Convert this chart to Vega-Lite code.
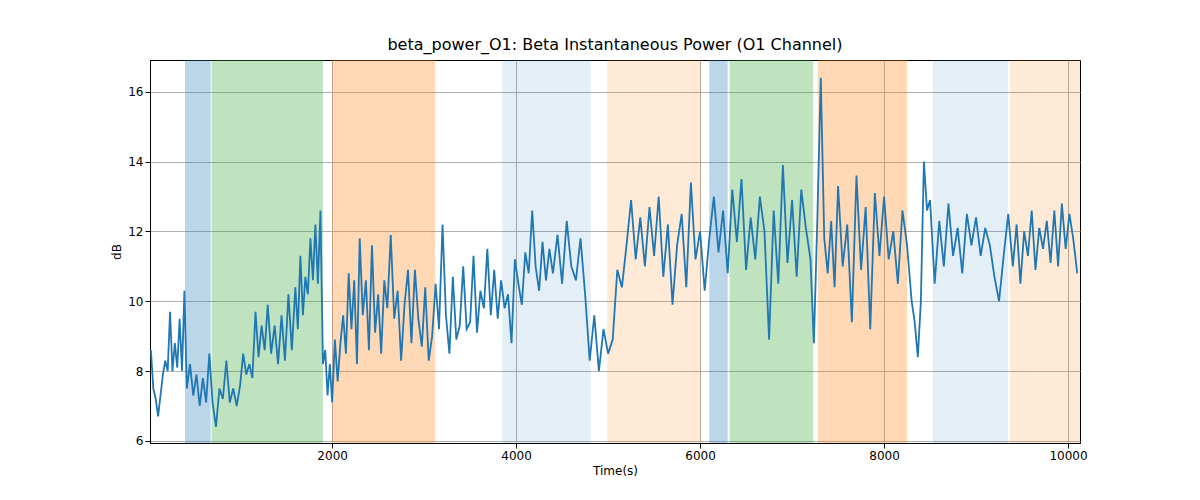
{
"$schema":"https://vega.github.io/schema/vega-lite/v6.json",
"width":930,"height":383,"autosize":{"type":"none"},
"padding":{"left":150,"top":60,"right":120,"bottom":57},
"background":"white",
"config":{"font":"DejaVu Sans","view":{"stroke":"black"},"axis":{"labelFontSize":12,"titleFontSize":12,"titleFontWeight":"normal","labelColor":"black","titleColor":"black","gridColor":"#b0b0b0","domainColor":"black","tickColor":"black"}},
"title":{"text":"beta_power_O1: Beta Instantaneous Power (O1 Channel)","fontSize":16,"fontWeight":"normal","offset":7},
"datasets":{
"bands":[
{"a":400,"b":680,"c":"#1f77b4","o":0.3},{"a":690,"b":1900,"c":"#2ca02c","o":0.3},{"a":2000,"b":3120,"c":"#ff7f0e","o":0.3},
{"a":3850,"b":4810,"c":"#1f77b4","o":0.12},{"a":4990,"b":6010,"c":"#ff7f0e","o":0.16},{"a":6100,"b":6300,"c":"#1f77b4","o":0.3},
{"a":6320,"b":7230,"c":"#2ca02c","o":0.3},{"a":7280,"b":8250,"c":"#ff7f0e","o":0.3},{"a":8530,"b":9350,"c":"#1f77b4","o":0.12},{"a":9370,"b":10130,"c":"#ff7f0e","o":0.16}],
"s":[
{"t":30,"v":8.6},{"t":56,"v":7.5},{"t":82,"v":7.2},{"t":108,"v":6.7},{"t":134,"v":7.3},{"t":160,"v":7.9},{"t":186,"v":8.3},{"t":212,"v":8.0},{"t":238,"v":9.7},{"t":264,"v":8.0},{"t":290,"v":8.8},{"t":316,"v":8.1},{"t":342,"v":9.5},{"t":368,"v":8.0},{"t":394,"v":10.3},
{"t":420,"v":7.5},{"t":455,"v":8.2},{"t":490,"v":7.3},{"t":525,"v":7.9},{"t":560,"v":7.0},{"t":595,"v":7.8},{"t":630,"v":7.1},{"t":665,"v":8.5},
{"t":700,"v":7.1},{"t":737,"v":6.4},{"t":775,"v":7.5},{"t":812,"v":7.2},{"t":850,"v":8.3},{"t":887,"v":7.1},{"t":925,"v":7.5},{"t":962,"v":7.0},
{"t":1000,"v":7.6},{"t":1033,"v":8.5},{"t":1067,"v":7.9},{"t":1100,"v":8.2},{"t":1133,"v":7.8},{"t":1167,"v":9.7},{"t":1200,"v":8.4},{"t":1233,"v":9.3},{"t":1267,"v":8.6},
{"t":1300,"v":9.9},{"t":1337,"v":8.5},{"t":1375,"v":9.3},{"t":1412,"v":8.2},{"t":1450,"v":9.6},{"t":1487,"v":8.3},{"t":1525,"v":10.2},{"t":1562,"v":8.6},
{"t":1600,"v":10.4},{"t":1627,"v":9.2},{"t":1655,"v":11.3},{"t":1682,"v":9.6},{"t":1709,"v":10.7},{"t":1736,"v":10.2},{"t":1764,"v":11.8},{"t":1791,"v":10.6},{"t":1818,"v":12.2},{"t":1845,"v":10.5},{"t":1873,"v":12.6},
{"t":1900,"v":8.2},{"t":1925,"v":8.6},{"t":1950,"v":7.3},{"t":1975,"v":8.2},
{"t":2000,"v":7.1},{"t":2030,"v":8.9},{"t":2060,"v":7.7},{"t":2090,"v":8.8},{"t":2120,"v":9.6},{"t":2150,"v":8.5},{"t":2180,"v":10.8},{"t":2210,"v":9.2},{"t":2240,"v":10.6},{"t":2270,"v":8.2},
{"t":2300,"v":11.8},{"t":2333,"v":9.6},{"t":2367,"v":10.6},{"t":2400,"v":8.6},{"t":2433,"v":11.6},{"t":2467,"v":9.1},{"t":2500,"v":10.2},{"t":2533,"v":8.5},{"t":2567,"v":10.6},
{"t":2600,"v":9.8},{"t":2637,"v":11.9},{"t":2675,"v":9.5},{"t":2712,"v":10.3},{"t":2750,"v":8.3},{"t":2787,"v":9.9},{"t":2825,"v":10.9},{"t":2862,"v":8.8},
{"t":2900,"v":10.9},{"t":2937,"v":9.5},{"t":2975,"v":8.7},{"t":3012,"v":10.4},{"t":3050,"v":8.3},{"t":3087,"v":9.0},{"t":3125,"v":10.5},{"t":3162,"v":9.2},
{"t":3200,"v":12.2},{"t":3237,"v":9.6},{"t":3275,"v":8.5},{"t":3312,"v":10.7},{"t":3350,"v":8.9},{"t":3387,"v":9.3},{"t":3425,"v":11.0},{"t":3462,"v":9.2},
{"t":3500,"v":9.4},{"t":3537,"v":11.3},{"t":3575,"v":9.1},{"t":3612,"v":10.3},{"t":3650,"v":9.8},{"t":3687,"v":11.5},{"t":3725,"v":9.6},{"t":3762,"v":10.9},
{"t":3800,"v":9.5},{"t":3837,"v":10.6},{"t":3875,"v":9.8},{"t":3912,"v":10.2},{"t":3950,"v":8.8},{"t":3987,"v":11.2},{"t":4025,"v":10.5},{"t":4062,"v":9.9},
{"t":4100,"v":11.4},{"t":4137,"v":10.8},{"t":4175,"v":12.6},{"t":4212,"v":11.0},{"t":4250,"v":10.3},{"t":4287,"v":11.7},{"t":4325,"v":10.6},{"t":4362,"v":11.5},
{"t":4400,"v":10.8},{"t":4450,"v":11.9},{"t":4500,"v":10.5},{"t":4550,"v":12.3},{"t":4600,"v":11.0},{"t":4650,"v":10.6},{"t":4700,"v":11.8},{"t":4750,"v":10.2},
{"t":4800,"v":8.3},{"t":4850,"v":9.6},{"t":4900,"v":8.0},{"t":4950,"v":9.2},{"t":5000,"v":8.5},{"t":5050,"v":8.9},
{"t":5100,"v":10.9},{"t":5150,"v":10.4},{"t":5200,"v":11.6},{"t":5250,"v":12.9},{"t":5300,"v":11.2},{"t":5350,"v":12.4},{"t":5400,"v":11.0},{"t":5450,"v":12.7},
{"t":5500,"v":11.3},{"t":5550,"v":13.0},{"t":5600,"v":10.7},{"t":5650,"v":12.2},{"t":5700,"v":9.9},{"t":5750,"v":11.6},{"t":5800,"v":12.5},{"t":5850,"v":10.4},{"t":5900,"v":13.4},{"t":5950,"v":11.2},
{"t":6000,"v":12.0},{"t":6050,"v":10.3},{"t":6100,"v":11.8},{"t":6150,"v":13.0},{"t":6200,"v":11.4},{"t":6250,"v":12.6},
{"t":6300,"v":10.8},{"t":6350,"v":13.2},{"t":6400,"v":11.7},{"t":6450,"v":13.5},{"t":6500,"v":10.9},{"t":6550,"v":12.4},{"t":6600,"v":11.2},{"t":6650,"v":13.0},
{"t":6700,"v":12.0},{"t":6750,"v":8.9},{"t":6800,"v":12.6},{"t":6850,"v":10.5},{"t":6900,"v":13.9},{"t":6950,"v":11.1},{"t":7000,"v":12.9},{"t":7050,"v":10.7},{"t":7100,"v":13.2},{"t":7150,"v":12.1},
{"t":7200,"v":11.2},{"t":7237,"v":8.8},{"t":7275,"v":12.4},{"t":7312,"v":16.4},{"t":7350,"v":11.8},{"t":7387,"v":10.8},{"t":7425,"v":12.3},{"t":7462,"v":10.4},
{"t":7500,"v":13.3},{"t":7550,"v":11.0},{"t":7600,"v":12.2},{"t":7650,"v":9.4},{"t":7700,"v":13.6},{"t":7750,"v":10.9},{"t":7800,"v":12.7},{"t":7850,"v":9.2},{"t":7900,"v":13.1},{"t":7950,"v":11.3},
{"t":8000,"v":13.0},{"t":8050,"v":11.2},{"t":8100,"v":12.0},{"t":8150,"v":10.5},{"t":8200,"v":12.6},{"t":8250,"v":11.6},
{"t":8300,"v":10.0},{"t":8333,"v":9.4},{"t":8367,"v":8.4},{"t":8400,"v":10.0},{"t":8433,"v":14.0},{"t":8467,"v":12.6},
{"t":8500,"v":12.9},{"t":8550,"v":10.5},{"t":8600,"v":12.3},{"t":8650,"v":11.0},{"t":8700,"v":12.8},{"t":8750,"v":11.3},{"t":8800,"v":12.1},{"t":8850,"v":10.8},{"t":8900,"v":12.5},{"t":8950,"v":11.6},
{"t":9000,"v":12.4},{"t":9050,"v":11.3},{"t":9100,"v":12.1},{"t":9150,"v":11.6},{"t":9200,"v":10.7},{"t":9250,"v":10.0},{"t":9300,"v":11.3},{"t":9350,"v":12.5},
{"t":9400,"v":11.0},{"t":9441,"v":12.2},{"t":9482,"v":10.5},{"t":9523,"v":12.0},{"t":9564,"v":11.3},{"t":9605,"v":12.6},{"t":9646,"v":10.9},{"t":9687,"v":12.1},{"t":9728,"v":11.5},{"t":9769,"v":12.3},{"t":9810,"v":11.1},{"t":9851,"v":12.6},{"t":9892,"v":11.0},{"t":9933,"v":12.8},{"t":9974,"v":11.5},{"t":10015,"v":12.5},{"t":10056,"v":11.8},{"t":10100,"v":10.8}
]},
"layer":[
{"data":{"name":"bands"},"mark":{"type":"rect"},
 "encoding":{"x":{"field":"a","type":"quantitative"},"x2":{"field":"b"},"y":{"value":0},"y2":{"value":383},"color":{"field":"c","type":"nominal","scale":null},"opacity":{"field":"o","type":"quantitative","scale":null}}},
{"data":{"name":"s"},"mark":{"type":"line","color":"#1f77b4","strokeWidth":1.8,"clip":true},
 "encoding":{
  "x":{"field":"t","type":"quantitative","scale":{"domain":[20,10130],"nice":false,"zero":false},"axis":{"title":"Time(s)","values":[2000,4000,6000,8000,10000],"format":"d","grid":true,"labelFlush":false}},
  "y":{"field":"v","type":"quantitative","scale":{"domain":[5.94,16.91],"nice":false,"zero":false},"axis":{"title":"dB","values":[6,8,10,12,14,16],"grid":true,"labelFlush":false}}}}
]
}
